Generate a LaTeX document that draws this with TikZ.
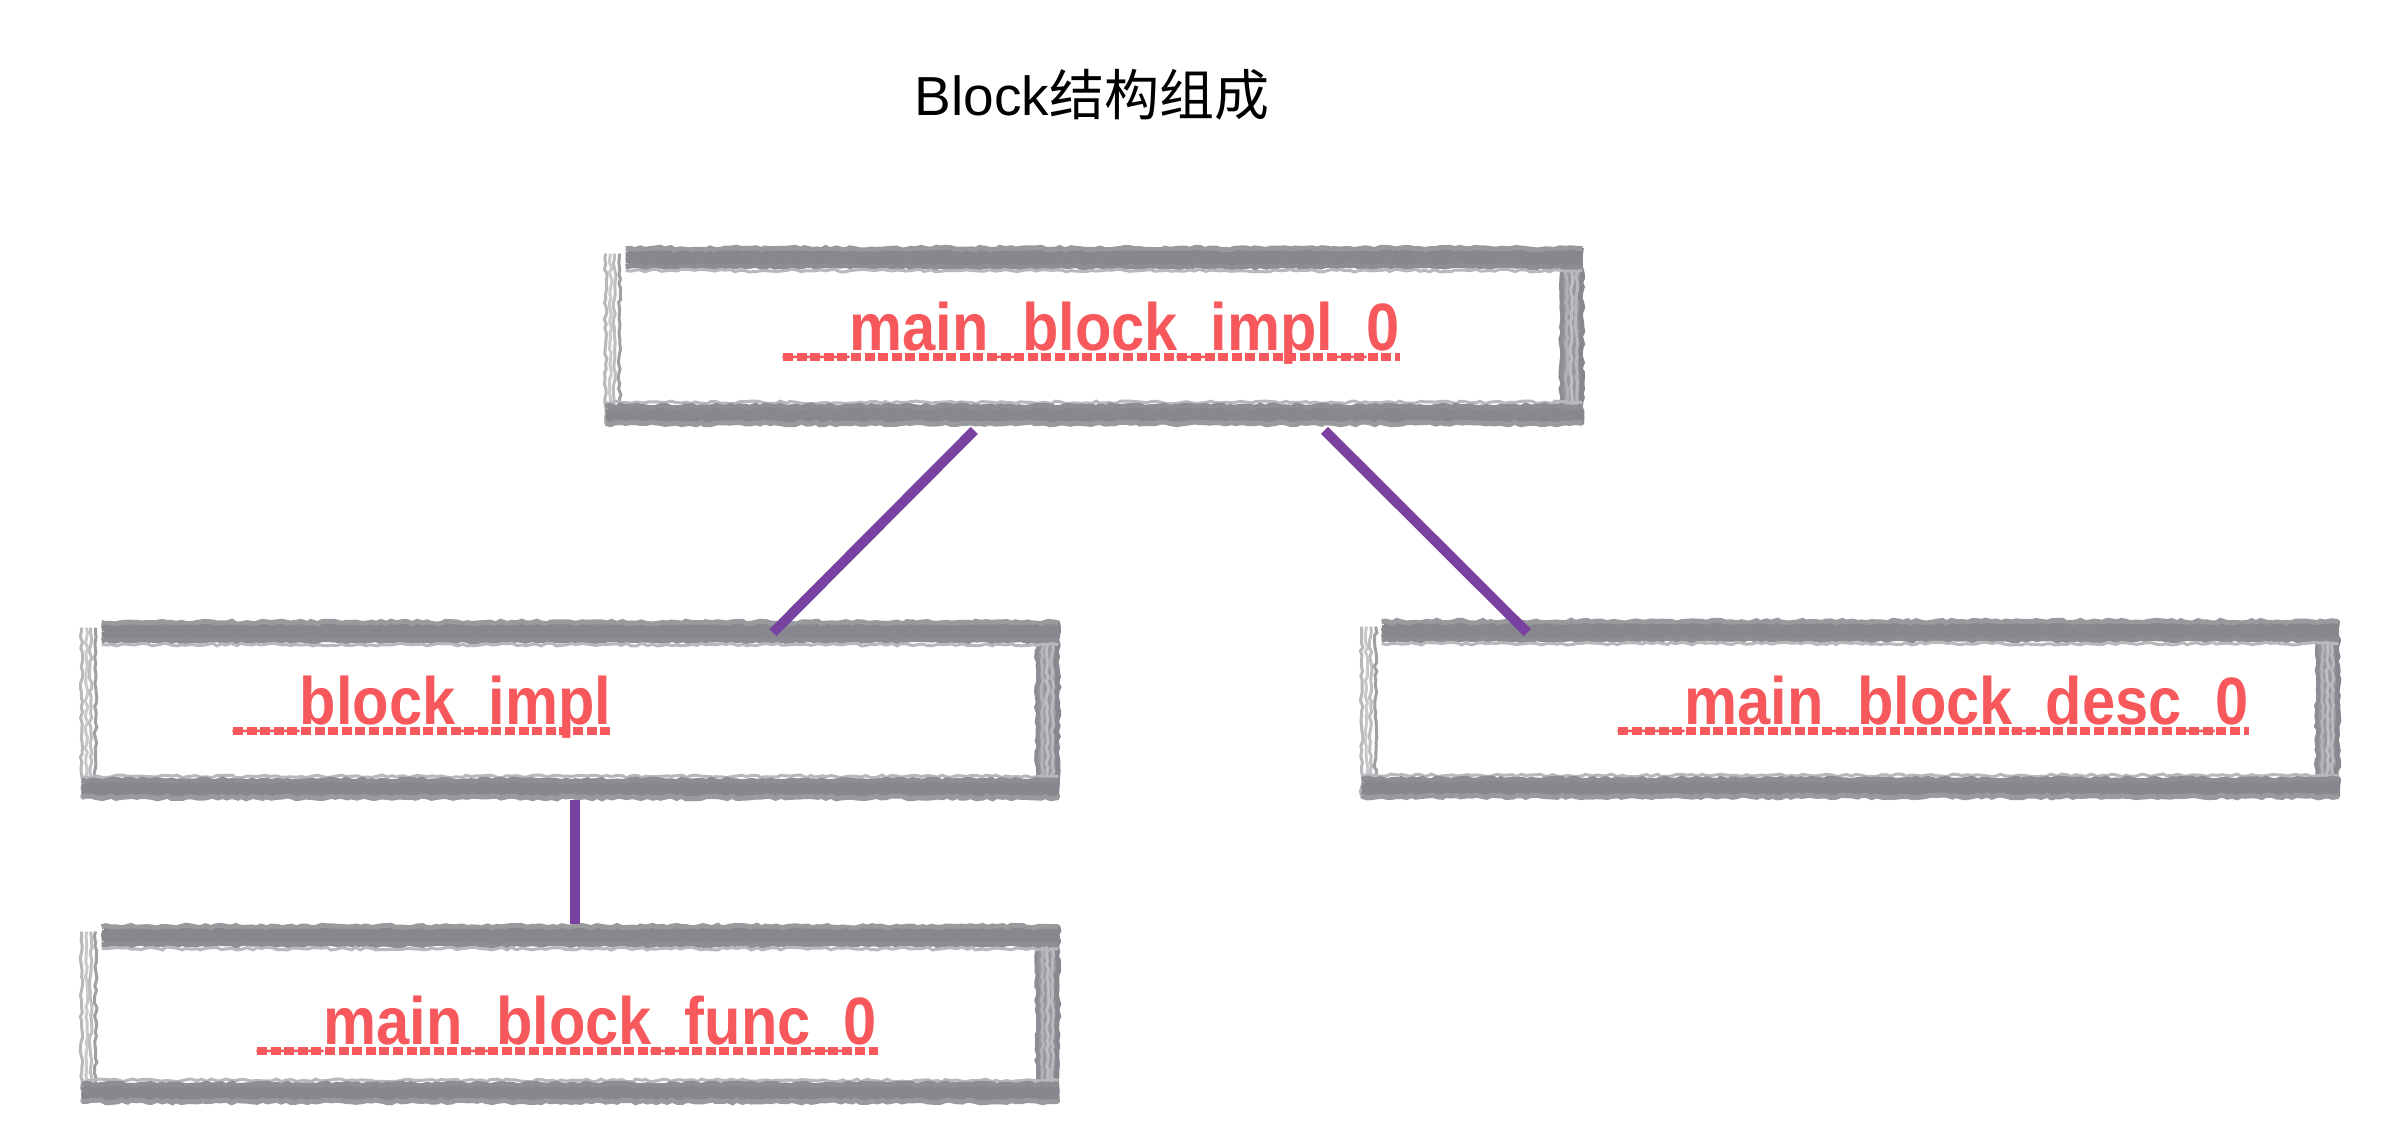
\documentclass[tikz,border=0pt]{standalone}
\usepackage{fontspec}
\usepackage{graphicx}
\setmainfont{Liberation Sans}
\newfontfamily\cjk{Noto Sans CJK SC}
\usetikzlibrary{calc,decorations.pathmorphing}
\definecolor{framegray}{RGB}{134,136,141}
\definecolor{linkpurple}{RGB}{122,66,160}
\definecolor{labelred}{RGB}{247,88,92}
\newcommand\sketchframe[1]{%
  % left side (light, broken)
  \foreach \o/\w/\s in {2/3/60, 7/3/45, 11/3/55, 16/3/80} {
    \draw[rough, line width=\w*0.5pt, draw=framegray!\s]
      ($(#1.north west)+(\o,8)$) -- ($(#1.south west)+(\o,-2)$);
  }
  % right side
  \fill[framegray!85] ($(#1.north east)+(-24,4)$) rectangle ($(#1.south east)+(-2,-4)$);
  \foreach \o/\w/\s in {3/5/100, 8/3/60, 13/3/55, 18/3/65, 23/4/95} {
    \draw[rough, line width=\w*0.5pt, draw=framegray!\s]
      ($(#1.north east)+(-\o,2)$) -- ($(#1.south east)+(-\o,-2)$);
  }
  % top band
  \fill[framegray] ($(#1.north west)+(24,3)$) rectangle ($(#1.north east)+(-2,22)$);
  \foreach \o/\w/\s in {3/5/85, 9/6/100, 15/6/100, 21/5/95, 25/3/60} {
    \draw[rough, line width=\w*0.5pt, draw=framegray!\s]
      ($(#1.north west)+(22,\o)$) -- ($(#1.north east)+(-2,\o)$);
  }
  % bottom band
  \fill[framegray] ($(#1.south west)+(4,-3)$) rectangle ($(#1.south east)+(-2,-21)$);
  \foreach \o/\w/\s in {24/3/60, 20/5/95, 14/6/100, 8/6/100, 3/5/85} {
    \draw[rough, line width=\w*0.5pt, draw=framegray!\s]
      ($(#1.south west)+(2,-\o)$) -- ($(#1.south east)+(-2,-\o)$);
  }
}
\begin{document}
\begin{tikzpicture}[x=0.5pt,y=-0.5pt,
  box/.style={rectangle, draw=none, fill=white, minimum width=490pt, minimum height=90pt, inner sep=0pt},
  lbl/.style={inner sep=0pt, anchor=base west, text=labelred, font=\fontsize{33.5}{40}\selectfont\bfseries},
  ul/.style={draw=labelred, line width=4pt, dash pattern=on 5pt off 1.8pt},
  link/.style={draw=linkpurple, line width=5pt},
  rough/.style={decorate, decoration={random steps, segment length=2.5pt, amplitude=0.7pt}},
  titletext/.style={inner sep=0pt, anchor=base, font=\fontsize{27.5}{32}\selectfont},
]
\pgfmathsetseed{42}
\useasboundingbox (0,0) rectangle (2400,1132);
\fill[white] (0,0) rectangle (2400,1132);

\node[titletext] (title) at (1092,115) {Block{\cjk 结构组成}};

\node[box] (impl0) at (1094,336) {};
\node[box] (blockimpl) at (570,710) {};
\node[box] (desc0) at (1850,709) {};
\node[box] (func0) at (570,1014) {};

\sketchframe{impl0}
\sketchframe{blockimpl}
\sketchframe{desc0}
\sketchframe{func0}

\node[lbl] (t-impl0) at (783,350) {\scalebox{0.89}[1]{\_\_main\_block\_impl\_0}};
\node[lbl] (t-blockimpl) at (233,724) {\scalebox{0.89}[1]{\_\_block\_impl}};
\node[lbl] (t-desc0) at (1618,724) {\scalebox{0.89}[1]{\_\_main\_block\_desc\_0}};
\node[lbl] (t-func0) at (257,1044) {\scalebox{0.89}[1]{\_\_main\_block\_func\_0}};

\foreach \t in {t-impl0,t-blockimpl,t-desc0,t-func0} {
  \draw[ul] ($(\t.base west)+(0,7)$) -- ($(\t.base east)+(0,7)$);
}

\draw[link] ($(impl0.south west)!0.378!(impl0.south east)+(0,4)$) -- ($(blockimpl.north west)!0.707!(blockimpl.north east)+(0,13)$);
\draw[link] ($(impl0.south west)!0.735!(impl0.south east)+(0,4)$) -- ($(desc0.north west)!0.171!(desc0.north east)+(0,14)$);
\draw[link] ($(blockimpl.south west)!0.505!(blockimpl.south east)$) -- ($(func0.north west)!0.505!(func0.north east)$);
\end{tikzpicture}
\end{document}
